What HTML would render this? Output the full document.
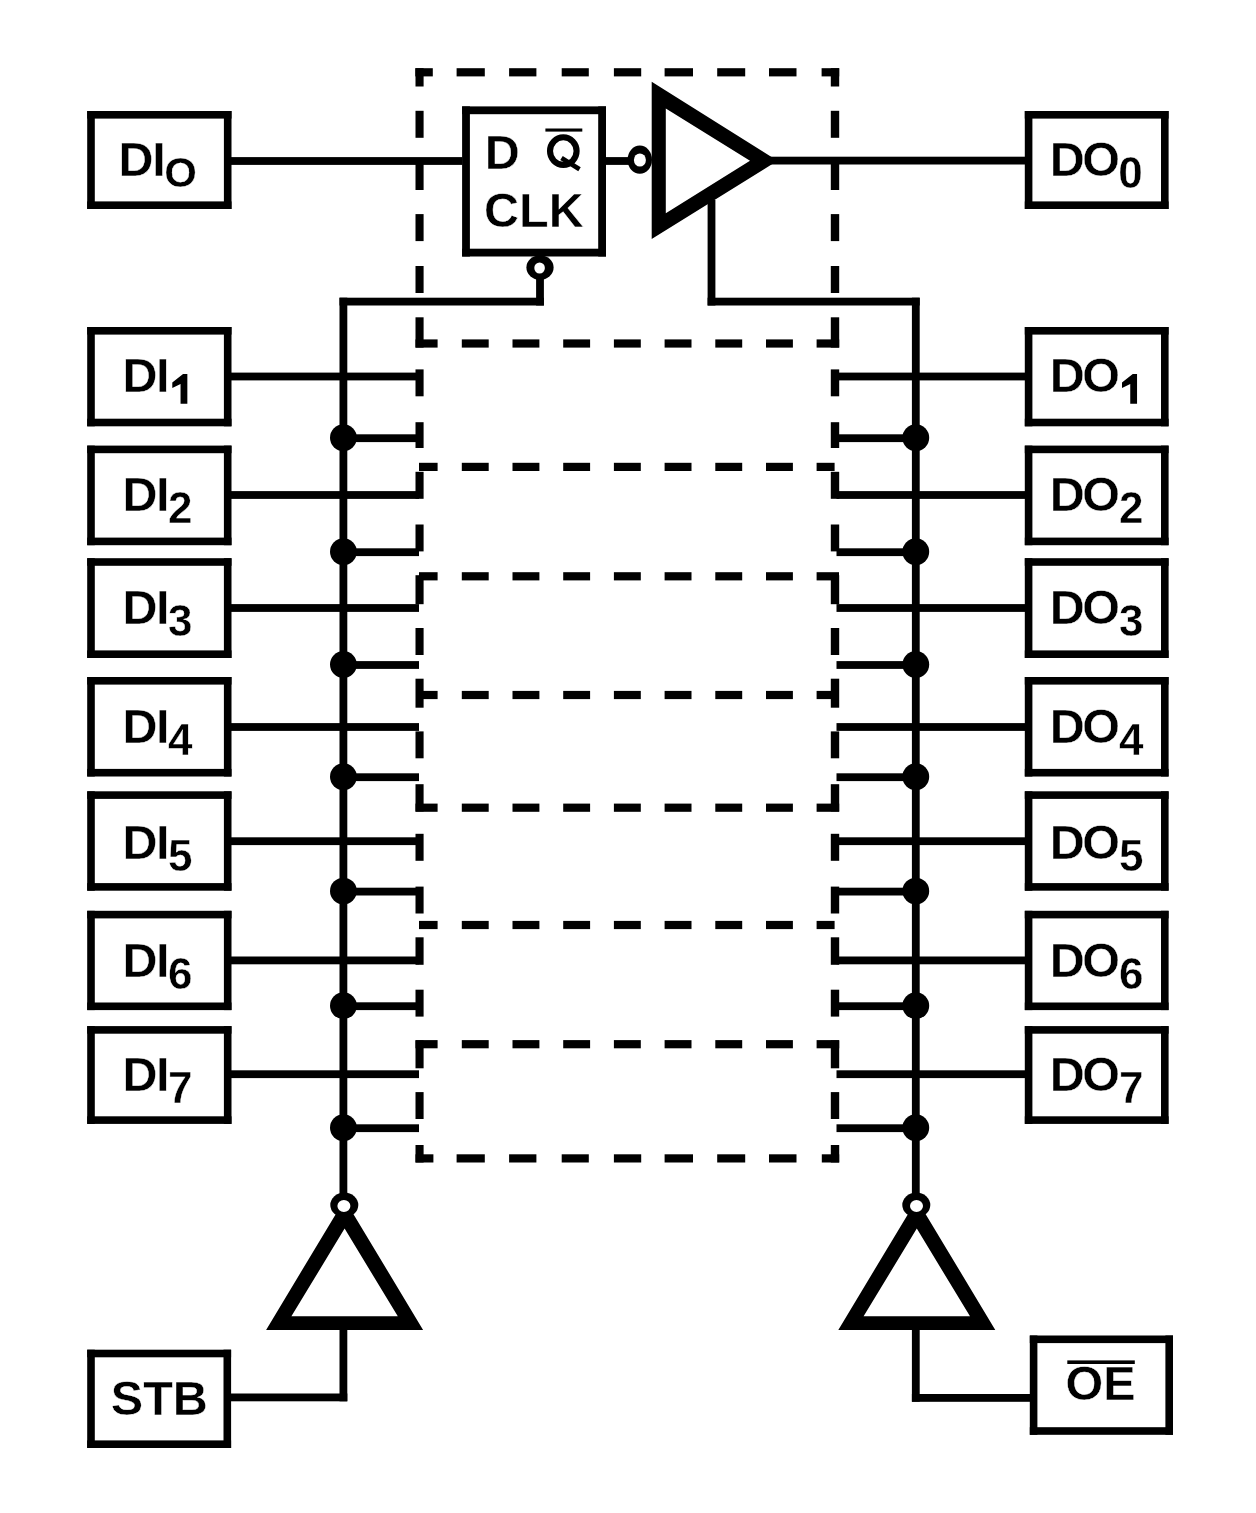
<!DOCTYPE html>
<html><head><meta charset="utf-8">
<style>
html,body{margin:0;padding:0;background:#fff;}
body{width:1256px;height:1513px;overflow:hidden;}
svg{display:block;will-change:transform;}
text{font-family:"Liberation Sans",sans-serif;font-weight:bold;font-size:48.5px;fill:#000;stroke:#fff;stroke-width:0.4px;}
</style></head>
<body>
<svg width="1256" height="1513" viewBox="0 0 1256 1513">
<rect width="1256" height="1513" fill="#fff"/>
<g fill="#000">
<rect x="87.2" y="111.0" width="144.3" height="7.6"/>
<rect x="87.2" y="201.4" width="144.3" height="7.6"/>
<rect x="87.2" y="111.0" width="7.6" height="98.0"/>
<rect x="223.9" y="111.0" width="7.6" height="98.0"/>
<rect x="1024.8" y="111.0" width="143.8" height="7.6"/>
<rect x="1024.8" y="201.4" width="143.8" height="7.6"/>
<rect x="1024.8" y="111.0" width="7.6" height="98.0"/>
<rect x="1161.0" y="111.0" width="7.6" height="98.0"/>
<rect x="87.2" y="327.0" width="144.3" height="7.6"/>
<rect x="87.2" y="418.7" width="144.3" height="7.6"/>
<rect x="87.2" y="327.0" width="7.6" height="99.3"/>
<rect x="223.9" y="327.0" width="7.6" height="99.3"/>
<rect x="1024.8" y="327.0" width="143.8" height="7.6"/>
<rect x="1024.8" y="418.7" width="143.8" height="7.6"/>
<rect x="1024.8" y="327.0" width="7.6" height="99.3"/>
<rect x="1161.0" y="327.0" width="7.6" height="99.3"/>
<rect x="87.2" y="445.6" width="144.3" height="7.6"/>
<rect x="87.2" y="537.6" width="144.3" height="7.6"/>
<rect x="87.2" y="445.6" width="7.6" height="99.6"/>
<rect x="223.9" y="445.6" width="7.6" height="99.6"/>
<rect x="1024.8" y="445.6" width="143.8" height="7.6"/>
<rect x="1024.8" y="537.6" width="143.8" height="7.6"/>
<rect x="1024.8" y="445.6" width="7.6" height="99.6"/>
<rect x="1161.0" y="445.6" width="7.6" height="99.6"/>
<rect x="87.2" y="558.2" width="144.3" height="7.6"/>
<rect x="87.2" y="650.4" width="144.3" height="7.6"/>
<rect x="87.2" y="558.2" width="7.6" height="99.8"/>
<rect x="223.9" y="558.2" width="7.6" height="99.8"/>
<rect x="1024.8" y="558.2" width="143.8" height="7.6"/>
<rect x="1024.8" y="650.4" width="143.8" height="7.6"/>
<rect x="1024.8" y="558.2" width="7.6" height="99.8"/>
<rect x="1161.0" y="558.2" width="7.6" height="99.8"/>
<rect x="87.2" y="677.0" width="144.3" height="7.6"/>
<rect x="87.2" y="768.9" width="144.3" height="7.6"/>
<rect x="87.2" y="677.0" width="7.6" height="99.5"/>
<rect x="223.9" y="677.0" width="7.6" height="99.5"/>
<rect x="1024.8" y="677.0" width="143.8" height="7.6"/>
<rect x="1024.8" y="768.9" width="143.8" height="7.6"/>
<rect x="1024.8" y="677.0" width="7.6" height="99.5"/>
<rect x="1161.0" y="677.0" width="7.6" height="99.5"/>
<rect x="87.2" y="791.3" width="144.3" height="7.6"/>
<rect x="87.2" y="883.1" width="144.3" height="7.6"/>
<rect x="87.2" y="791.3" width="7.6" height="99.4"/>
<rect x="223.9" y="791.3" width="7.6" height="99.4"/>
<rect x="1024.8" y="791.3" width="143.8" height="7.6"/>
<rect x="1024.8" y="883.1" width="143.8" height="7.6"/>
<rect x="1024.8" y="791.3" width="7.6" height="99.4"/>
<rect x="1161.0" y="791.3" width="7.6" height="99.4"/>
<rect x="87.2" y="910.8" width="144.3" height="7.6"/>
<rect x="87.2" y="1002.5" width="144.3" height="7.6"/>
<rect x="87.2" y="910.8" width="7.6" height="99.3"/>
<rect x="223.9" y="910.8" width="7.6" height="99.3"/>
<rect x="1024.8" y="910.8" width="143.8" height="7.6"/>
<rect x="1024.8" y="1002.5" width="143.8" height="7.6"/>
<rect x="1024.8" y="910.8" width="7.6" height="99.3"/>
<rect x="1161.0" y="910.8" width="7.6" height="99.3"/>
<rect x="87.2" y="1026.1" width="144.3" height="7.6"/>
<rect x="87.2" y="1116.3" width="144.3" height="7.6"/>
<rect x="87.2" y="1026.1" width="7.6" height="97.8"/>
<rect x="223.9" y="1026.1" width="7.6" height="97.8"/>
<rect x="1024.8" y="1026.1" width="143.8" height="7.6"/>
<rect x="1024.8" y="1116.3" width="143.8" height="7.6"/>
<rect x="1024.8" y="1026.1" width="7.6" height="97.8"/>
<rect x="1161.0" y="1026.1" width="7.6" height="97.8"/>
<rect x="87.2" y="1349.7" width="143.9" height="7.6"/>
<rect x="87.2" y="1440.4" width="143.9" height="7.6"/>
<rect x="87.2" y="1349.7" width="7.6" height="98.3"/>
<rect x="223.5" y="1349.7" width="7.6" height="98.3"/>
<rect x="1029.8" y="1335.5" width="143.2" height="7.6"/>
<rect x="1029.8" y="1427.2" width="143.2" height="7.6"/>
<rect x="1029.8" y="1335.5" width="7.6" height="99.3"/>
<rect x="1165.4" y="1335.5" width="7.6" height="99.3"/>
<rect x="462.1" y="106.4" width="143.9" height="7.8"/>
<rect x="462.1" y="248.7" width="143.9" height="7.8"/>
<rect x="462.1" y="106.4" width="7.8" height="150.1"/>
<rect x="598.2" y="106.4" width="7.8" height="150.1"/>
<rect x="339.5" y="297.7" width="7.8" height="897.3"/>
<rect x="911.9" y="297.7" width="7.8" height="897.3"/>
<rect x="339.5" y="297.7" width="204.4" height="7.8"/>
<rect x="536.1" y="275.0" width="7.8" height="30.5"/>
<rect x="707.6" y="297.7" width="212.1" height="7.8"/>
<rect x="707.6" y="200.0" width="7.8" height="105.5"/>
<rect x="229.5" y="157.1" width="233.0" height="7.8"/>
<rect x="605.0" y="157.1" width="25.0" height="7.8"/>
<rect x="760.0" y="156.7" width="266.8" height="7.8"/>
<rect x="229.5" y="372.6" width="189.5" height="7.8"/>
<rect x="836.5" y="372.6" width="190.3" height="7.8"/>
<rect x="229.5" y="491.1" width="189.5" height="7.8"/>
<rect x="836.5" y="491.1" width="190.3" height="7.8"/>
<rect x="229.5" y="604.1" width="189.5" height="7.8"/>
<rect x="836.5" y="604.1" width="190.3" height="7.8"/>
<rect x="229.5" y="723.1" width="189.5" height="7.8"/>
<rect x="836.5" y="723.1" width="190.3" height="7.8"/>
<rect x="229.5" y="837.3" width="189.5" height="7.8"/>
<rect x="836.5" y="837.3" width="190.3" height="7.8"/>
<rect x="229.5" y="956.5" width="189.5" height="7.8"/>
<rect x="836.5" y="956.5" width="190.3" height="7.8"/>
<rect x="229.5" y="1070.3" width="189.5" height="7.8"/>
<rect x="836.5" y="1070.3" width="190.3" height="7.8"/>
<rect x="343.4" y="434.3" width="75.6" height="7.8"/>
<rect x="836.5" y="434.3" width="79.3" height="7.8"/>
<circle cx="343.4" cy="437.7" r="13.4"/>
<circle cx="915.8" cy="437.7" r="13.4"/>
<rect x="343.4" y="548.3" width="75.6" height="7.8"/>
<rect x="836.5" y="548.3" width="79.3" height="7.8"/>
<circle cx="343.4" cy="551.7" r="13.4"/>
<circle cx="915.8" cy="551.7" r="13.4"/>
<rect x="343.4" y="661.1" width="75.6" height="7.8"/>
<rect x="836.5" y="661.1" width="79.3" height="7.8"/>
<circle cx="343.4" cy="664.5" r="13.4"/>
<circle cx="915.8" cy="664.5" r="13.4"/>
<rect x="343.4" y="773.3" width="75.6" height="7.8"/>
<rect x="836.5" y="773.3" width="79.3" height="7.8"/>
<circle cx="343.4" cy="776.7" r="13.4"/>
<circle cx="915.8" cy="776.7" r="13.4"/>
<rect x="343.4" y="887.7" width="75.6" height="7.8"/>
<rect x="836.5" y="887.7" width="79.3" height="7.8"/>
<circle cx="343.4" cy="891.1" r="13.4"/>
<circle cx="915.8" cy="891.1" r="13.4"/>
<rect x="343.4" y="1002.3" width="75.6" height="7.8"/>
<rect x="836.5" y="1002.3" width="79.3" height="7.8"/>
<circle cx="343.4" cy="1005.7" r="13.4"/>
<circle cx="915.8" cy="1005.7" r="13.4"/>
<rect x="343.4" y="1124.3" width="75.6" height="7.8"/>
<rect x="836.5" y="1124.3" width="79.3" height="7.8"/>
<circle cx="343.4" cy="1127.7" r="13.4"/>
<circle cx="915.8" cy="1127.7" r="13.4"/>
<rect x="229.5" y="1393.5" width="117.8" height="7.8"/>
<rect x="339.5" y="1325.0" width="7.8" height="76.3"/>
<rect x="911.9" y="1394.0" width="119.1" height="7.8"/>
<rect x="911.9" y="1325.0" width="7.8" height="76.7"/>
<path fill-rule="evenodd" d="M651.7,81.7 651.7,239.0 777.5,160.8Z M665.8,108.6 665.8,213.2 750.0,160.8Z"/>
<path fill-rule="evenodd" d="M266.1,1329.9 423.1,1329.9 344.6,1199.5Z M291.4,1316.3 397.8,1316.3 344.6,1228.6Z"/>
<path fill-rule="evenodd" d="M838.3,1329.9 995.3,1329.9 916.8,1199.5Z M863.6,1316.3 970.0,1316.3 916.8,1228.6Z"/>
<ellipse cx="639.8" cy="159.7" rx="12.2" ry="14.1"/>
<ellipse cx="639.9" cy="160.0" rx="6.0" ry="6.6" fill="#fff"/>
<ellipse cx="540.0" cy="267.6" rx="13.6" ry="12.4"/>
<ellipse cx="539.6" cy="268.0" rx="5.3" ry="5.5" fill="#fff"/>
<ellipse cx="344.3" cy="1205.0" rx="14.0" ry="12.4"/>
<ellipse cx="343.9" cy="1206.0" rx="6.5" ry="6.1" fill="#fff"/>
<ellipse cx="916.3" cy="1205.0" rx="14.0" ry="12.4"/>
<ellipse cx="916.5" cy="1206.0" rx="6.5" ry="6.1" fill="#fff"/>
<rect x="415.3" y="68.2" width="17.5" height="8.2"/>
<rect x="456.6" y="68.2" width="28.2" height="8.2"/>
<rect x="509.1" y="68.2" width="27.3" height="8.2"/>
<rect x="561.7" y="68.2" width="27.1" height="8.2"/>
<rect x="613.9" y="68.2" width="27.3" height="8.2"/>
<rect x="664.6" y="68.2" width="28.4" height="8.2"/>
<rect x="717.2" y="68.2" width="28.0" height="8.2"/>
<rect x="769.0" y="68.2" width="27.5" height="8.2"/>
<rect x="821.6" y="68.2" width="17.6" height="8.2"/>
<rect x="415.5" y="1154.3" width="17.9" height="8.2"/>
<rect x="456.6" y="1154.3" width="28.2" height="8.2"/>
<rect x="509.1" y="1154.3" width="27.3" height="8.2"/>
<rect x="561.7" y="1154.3" width="27.1" height="8.2"/>
<rect x="613.9" y="1154.3" width="27.3" height="8.2"/>
<rect x="664.6" y="1154.3" width="28.4" height="8.2"/>
<rect x="717.2" y="1154.3" width="28.0" height="8.2"/>
<rect x="769.0" y="1154.3" width="27.5" height="8.2"/>
<rect x="821.8" y="1154.3" width="17.4" height="8.2"/>
<rect x="415.5" y="339.4" width="22.1" height="8.2"/>
<rect x="461.8" y="339.4" width="26.9" height="8.2"/>
<rect x="512.5" y="339.4" width="26.9" height="8.2"/>
<rect x="563.2" y="339.4" width="26.9" height="8.2"/>
<rect x="613.9" y="339.4" width="26.9" height="8.2"/>
<rect x="664.6" y="339.4" width="26.9" height="8.2"/>
<rect x="715.3" y="339.4" width="26.9" height="8.2"/>
<rect x="766.0" y="339.4" width="26.9" height="8.2"/>
<rect x="816.6" y="339.4" width="22.6" height="8.2"/>
<rect x="419.0" y="462.8" width="18.6" height="8.2"/>
<rect x="461.8" y="462.8" width="26.9" height="8.2"/>
<rect x="512.5" y="462.8" width="26.9" height="8.2"/>
<rect x="563.2" y="462.8" width="26.9" height="8.2"/>
<rect x="613.9" y="462.8" width="26.9" height="8.2"/>
<rect x="664.6" y="462.8" width="26.9" height="8.2"/>
<rect x="715.3" y="462.8" width="26.9" height="8.2"/>
<rect x="766.0" y="462.8" width="26.9" height="8.2"/>
<rect x="816.6" y="462.8" width="18.0" height="8.2"/>
<rect x="419.0" y="572.2" width="18.6" height="8.2"/>
<rect x="461.8" y="572.2" width="26.9" height="8.2"/>
<rect x="512.5" y="572.2" width="26.9" height="8.2"/>
<rect x="563.2" y="572.2" width="26.9" height="8.2"/>
<rect x="613.9" y="572.2" width="26.9" height="8.2"/>
<rect x="664.6" y="572.2" width="26.9" height="8.2"/>
<rect x="715.3" y="572.2" width="26.9" height="8.2"/>
<rect x="766.0" y="572.2" width="26.9" height="8.2"/>
<rect x="816.6" y="572.2" width="22.4" height="8.2"/>
<rect x="419.0" y="690.9" width="18.6" height="8.2"/>
<rect x="461.8" y="690.9" width="26.9" height="8.2"/>
<rect x="512.5" y="690.9" width="26.9" height="8.2"/>
<rect x="563.2" y="690.9" width="26.9" height="8.2"/>
<rect x="613.9" y="690.9" width="26.9" height="8.2"/>
<rect x="664.6" y="690.9" width="26.9" height="8.2"/>
<rect x="715.3" y="690.9" width="26.9" height="8.2"/>
<rect x="766.0" y="690.9" width="26.9" height="8.2"/>
<rect x="816.6" y="690.9" width="18.0" height="8.2"/>
<rect x="415.5" y="803.6" width="22.1" height="8.2"/>
<rect x="461.8" y="803.6" width="26.9" height="8.2"/>
<rect x="512.5" y="803.6" width="26.9" height="8.2"/>
<rect x="563.2" y="803.6" width="26.9" height="8.2"/>
<rect x="613.9" y="803.6" width="26.9" height="8.2"/>
<rect x="664.6" y="803.6" width="26.9" height="8.2"/>
<rect x="715.3" y="803.6" width="26.9" height="8.2"/>
<rect x="766.0" y="803.6" width="26.9" height="8.2"/>
<rect x="816.6" y="803.6" width="22.6" height="8.2"/>
<rect x="419.0" y="920.9" width="18.6" height="8.2"/>
<rect x="461.8" y="920.9" width="26.9" height="8.2"/>
<rect x="512.5" y="920.9" width="26.9" height="8.2"/>
<rect x="563.2" y="920.9" width="26.9" height="8.2"/>
<rect x="613.9" y="920.9" width="26.9" height="8.2"/>
<rect x="664.6" y="920.9" width="26.9" height="8.2"/>
<rect x="715.3" y="920.9" width="26.9" height="8.2"/>
<rect x="766.0" y="920.9" width="26.9" height="8.2"/>
<rect x="816.6" y="920.9" width="18.0" height="8.2"/>
<rect x="415.5" y="1040.1" width="22.1" height="8.2"/>
<rect x="461.8" y="1040.1" width="26.9" height="8.2"/>
<rect x="512.5" y="1040.1" width="26.9" height="8.2"/>
<rect x="563.2" y="1040.1" width="26.9" height="8.2"/>
<rect x="613.9" y="1040.1" width="26.9" height="8.2"/>
<rect x="664.6" y="1040.1" width="26.9" height="8.2"/>
<rect x="715.3" y="1040.1" width="26.9" height="8.2"/>
<rect x="766.0" y="1040.1" width="26.9" height="8.2"/>
<rect x="816.6" y="1040.1" width="22.6" height="8.2"/>
<rect x="415.5" y="68.2" width="8.1" height="18.3"/>
<rect x="830.8" y="68.2" width="8.4" height="18.3"/>
<rect x="415.5" y="110.8" width="8.1" height="27.0"/>
<rect x="830.8" y="110.8" width="8.4" height="27.0"/>
<rect x="415.5" y="161.0" width="8.1" height="29.0"/>
<rect x="830.8" y="161.0" width="8.4" height="29.0"/>
<rect x="415.5" y="214.1" width="8.1" height="27.0"/>
<rect x="830.8" y="214.1" width="8.4" height="27.0"/>
<rect x="415.5" y="266.0" width="8.1" height="27.0"/>
<rect x="830.8" y="266.0" width="8.4" height="27.0"/>
<rect x="415.5" y="317.3" width="8.1" height="30.3"/>
<rect x="830.8" y="317.3" width="8.4" height="30.3"/>
<rect x="415.5" y="369.4" width="8.1" height="26.9"/>
<rect x="830.8" y="369.4" width="8.4" height="26.9"/>
<rect x="415.5" y="422.2" width="8.1" height="25.8"/>
<rect x="830.8" y="422.2" width="8.4" height="25.8"/>
<rect x="415.5" y="471.8" width="8.1" height="27.0"/>
<rect x="830.8" y="471.8" width="8.4" height="27.0"/>
<rect x="415.5" y="524.5" width="8.1" height="26.9"/>
<rect x="830.8" y="524.5" width="8.4" height="26.9"/>
<rect x="415.5" y="575.2" width="8.1" height="29.0"/>
<rect x="830.8" y="575.2" width="8.4" height="29.0"/>
<rect x="415.5" y="628.0" width="8.1" height="27.0"/>
<rect x="830.8" y="628.0" width="8.4" height="27.0"/>
<rect x="415.5" y="678.7" width="8.1" height="29.0"/>
<rect x="830.8" y="678.7" width="8.4" height="29.0"/>
<rect x="415.5" y="731.4" width="8.1" height="26.9"/>
<rect x="830.8" y="731.4" width="8.4" height="26.9"/>
<rect x="415.5" y="784.2" width="8.1" height="27.3"/>
<rect x="830.8" y="784.2" width="8.4" height="27.3"/>
<rect x="415.5" y="833.8" width="8.1" height="27.0"/>
<rect x="830.8" y="833.8" width="8.4" height="27.0"/>
<rect x="415.5" y="886.6" width="8.1" height="26.9"/>
<rect x="830.8" y="886.6" width="8.4" height="26.9"/>
<rect x="415.5" y="937.3" width="8.1" height="27.5"/>
<rect x="830.8" y="937.3" width="8.4" height="27.5"/>
<rect x="415.5" y="989.7" width="8.1" height="26.9"/>
<rect x="830.8" y="989.7" width="8.4" height="26.9"/>
<rect x="415.5" y="1040.4" width="8.1" height="27.9"/>
<rect x="830.8" y="1040.4" width="8.4" height="27.9"/>
<rect x="415.5" y="1092.1" width="8.1" height="26.9"/>
<rect x="830.8" y="1092.1" width="8.4" height="26.9"/>
<rect x="415.5" y="1145.0" width="8.1" height="17.5"/>
<rect x="830.8" y="1145.0" width="8.4" height="17.5"/>
<path d="M187.35,374.00 183.05,374.00 172.30,382.60 172.30,388.00 180.55,384.00 180.55,403.70 187.35,403.70Z"/>
<path d="M1137.05,374.00 1132.75,374.00 1122.00,382.60 1122.00,388.00 1130.25,384.00 1130.25,403.70 1137.05,403.70Z"/>
<ellipse cx="563.3" cy="151.1" rx="13.3" ry="13.8" fill="none" stroke="#000" stroke-width="6.1"/>
<line x1="561.5" y1="158.0" x2="579.5" y2="169.3" stroke="#000" stroke-width="4.6"/>
<rect x="545.4" y="128.5" width="36.9" height="3.1"/>
<rect x="1067.3" y="1360.4" width="67.5" height="3.6"/>
<text x="118.5" y="175.8">D<tspan dx="-1.2">I</tspan><tspan font-size="42" dx="-1.6" dy="10.8">O</tspan></text>
<text x="1049.8" y="175.8">D<tspan dx="-2.7">O</tspan><tspan font-size="44" dx="-1.5" dy="12.2">0</tspan></text>
<text x="122.5" y="391.8">D<tspan dx="-1.5">I</tspan></text>
<text x="1049.8" y="391.8">D<tspan dx="-2.7">O</tspan></text>
<text x="122.5" y="510.8">D<tspan dx="-1.5">I</tspan><tspan font-size="44" dx="-1.5" dy="12.2">2</tspan></text>
<text x="1049.8" y="510.8">D<tspan dx="-2.7">O</tspan><tspan font-size="44" dx="-0.8" dy="12.2">2</tspan></text>
<text x="122.5" y="623.8">D<tspan dx="-1.5">I</tspan><tspan font-size="44" dx="-1.5" dy="12.2">3</tspan></text>
<text x="1049.8" y="623.8">D<tspan dx="-2.7">O</tspan><tspan font-size="44" dx="-0.8" dy="12.2">3</tspan></text>
<text x="122.5" y="742.9">D<tspan dx="-1.5">I</tspan><tspan font-size="44" dx="-1.5" dy="12.2">4</tspan></text>
<text x="1049.8" y="742.9">D<tspan dx="-2.7">O</tspan><tspan font-size="44" dx="-0.8" dy="12.2">4</tspan></text>
<text x="122.5" y="858.6">D<tspan dx="-1.5">I</tspan><tspan font-size="44" dx="-1.5" dy="12.2">5</tspan></text>
<text x="1049.8" y="858.6">D<tspan dx="-2.7">O</tspan><tspan font-size="44" dx="-0.8" dy="12.2">5</tspan></text>
<text x="122.5" y="977.0">D<tspan dx="-1.5">I</tspan><tspan font-size="44" dx="-1.5" dy="12.2">6</tspan></text>
<text x="1049.8" y="977.0">D<tspan dx="-2.7">O</tspan><tspan font-size="44" dx="-0.8" dy="12.2">6</tspan></text>
<text x="122.5" y="1091.2">D<tspan dx="-1.5">I</tspan><tspan font-size="44" dx="-1.5" dy="12.2">7</tspan></text>
<text x="1049.8" y="1091.2">D<tspan dx="-2.7">O</tspan><tspan font-size="44" dx="-0.8" dy="12.2">7</tspan></text>
<text x="484.7" y="168.5" font-size="48.5" text-anchor="start">D</text>
<text x="484.0" y="226.8" font-size="48.5" text-anchor="start">CLK</text>
<text x="110.8" y="1414.6" font-size="48.5" text-anchor="start">STB</text>
<text x="1065.5" y="1400.4" font-size="48.5" text-anchor="start">OE</text>
</g>
</svg>
</body></html>
